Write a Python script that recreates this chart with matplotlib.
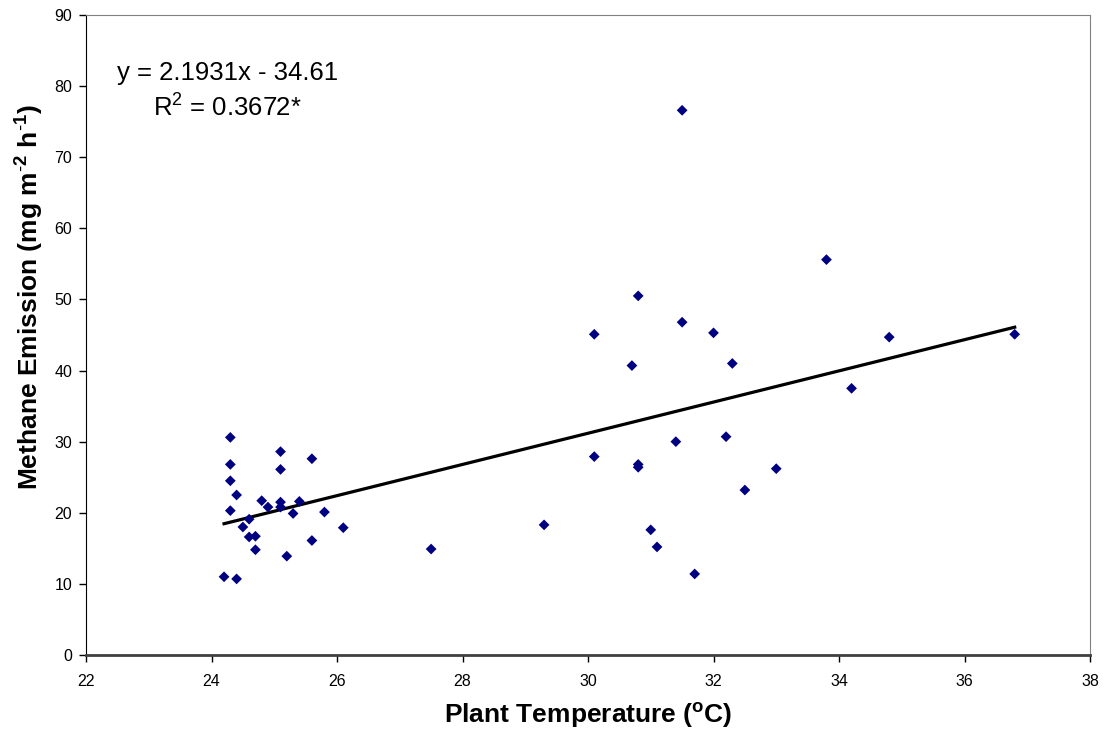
import matplotlib
matplotlib.use("Agg")
import matplotlib.pyplot as plt
import numpy as np

plt.rcParams['font.family'] = ['Liberation Sans', 'DejaVu Sans']
plt.rcParams['mathtext.fontset'] = 'custom'
plt.rcParams['mathtext.rm'] = 'Liberation Sans'
plt.rcParams['mathtext.bf'] = 'Liberation Sans:bold'
plt.rcParams['mathtext.it'] = 'Liberation Sans:italic'

temperature = [24.2, 24.4, 24.3, 24.3, 24.3, 24.3, 24.4, 24.5, 24.6, 24.6,
               24.7, 24.7, 24.8, 24.9, 25.1, 25.1, 25.1, 25.1, 25.2, 25.3,
               25.4, 25.6, 25.6, 25.8, 26.1, 27.5, 29.3, 30.1, 30.1, 30.7,
               30.8, 30.8, 30.8, 31.0, 31.1, 31.4, 31.5, 31.5, 31.7, 32.0,
               32.2, 32.3, 32.5, 33.0, 33.8, 34.2, 34.8, 36.8]
methane = [11.0, 10.7, 30.6, 26.8, 24.5, 20.3, 22.5, 18.0, 19.1, 16.6,
           16.7, 14.8, 21.7, 20.8, 28.6, 26.1, 21.5, 20.8, 13.9, 19.9,
           21.6, 27.6, 16.1, 20.1, 17.9, 14.9, 18.3, 27.9, 45.1, 40.7,
           50.5, 26.8, 26.4, 17.6, 15.2, 30.0, 76.6, 46.8, 11.4, 45.3,
           30.7, 41.0, 23.2, 26.2, 55.6, 37.5, 44.7, 45.1]
slope, intercept = 2.1931, -34.61

fig = plt.figure(figsize=(11.05, 7.40), dpi=100)
ax = fig.add_axes([86/1105, 1-655/740, (1090-86)/1105, (655-15)/740])

ax.scatter(temperature, methane, marker='D', s=30, color='#000080',
           edgecolors='none', zorder=3)
xf = np.array([min(temperature), max(temperature)])
ax.plot(xf, slope*xf + intercept, color='black', lw=2.3, zorder=2)

ax.set_xlim(22, 38)
ax.set_ylim(0, 90)
ax.set_xticks(np.arange(22, 39, 2))
ax.set_yticks(np.arange(0, 91, 10))
ax.tick_params(axis='both', direction='out', length=5, width=1,
               labelsize=11.5, colors='black', pad=5)
ax.tick_params(axis='x', pad=9)

ax.spines['left'].set_color('black')
ax.spines['bottom'].set_color('#404040')
ax.spines['bottom'].set_linewidth(2)
ax.spines['top'].set_color('#808080')
ax.spines['right'].set_color('#808080')

ax.set_xlabel(r'Plant Temperature ($^{\mathbf{o}}$C)', fontsize=19,
              fontweight='bold', labelpad=8)
ax.set_ylabel(r'Methane Emission (mg m$^{\mathbf{\text{-}2}}$ h$^{\mathbf{\text{-}1}}$)',
              fontsize=19, fontweight='bold', va='center')
ax.yaxis.set_label_coords(-0.056, 0.559)

fig.text(117/1105, 1-73/740, 'y = 2.1931x - 34.61', fontsize=18.5,
         va='center', ha='left')
fig.text(153/1105, 1-108/740, r'R$^{2}$ = 0.3672*', fontsize=18.5,
         va='center', ha='left')

fig.savefig('out.png', dpi=100)
